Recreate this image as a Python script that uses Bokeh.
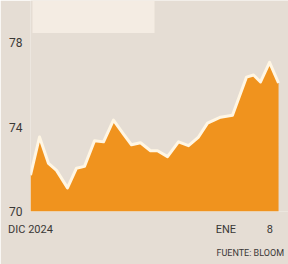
from bokeh.plotting import figure
from bokeh.models import FixedTicker, BoxAnnotation, Title
from bokeh.embed import file_html
from bokeh.resources import INLINE

# days since 1 Dec 2024 and price (USD)
dias = [0.0, 1.43, 2.86, 4.13, 5.87, 7.30, 8.57, 10.16, 11.59, 13.17, 14.76, 16.03,
        17.46, 19.05, 20.16, 21.75, 23.49, 25.08, 26.67, 28.10, 30.16, 32.06, 34.29,
        35.40, 36.51, 37.94, 39.37]
precio = [71.72, 73.53, 72.28, 71.95, 71.12, 72.05, 72.14, 73.35, 73.30, 74.33, 73.67,
          73.16, 73.26, 72.88, 72.88, 72.60, 73.30, 73.12, 73.53, 74.19, 74.47, 74.56,
          76.37, 76.47, 76.14, 77.07, 76.09]
x_ticks = [0, 31, 38]
x_labels = ["DIC 2024", "ENE", "8"]
y_ticks = [70, 74, 78]

BG = "#e5ddd4"
ORANGE = "#f0931e"
TXT = "#3a3836"
FONT = "Roboto"

p = figure(width=288, height=264, output_backend="svg", toolbar_location=None,
           x_range=(0, 40.95), y_range=(70, 80.0),
           min_border_left=30, min_border_right=0, min_border_top=0,
           min_border_bottom=50)
p.background_fill_color = BG
p.border_fill_color = BG
p.outline_line_color = None
p.grid.visible = False

p.add_layout(BoxAnnotation(left=0.32, right=19.68, bottom=78.46, fill_color="#f4ece3",
                           fill_alpha=1, line_color=None, level="underlay"))

p.varea(x=dias, y1=[70] * len(dias), y2=precio, fill_color=ORANGE)
p.line(x=dias, y=precio, line_color="#fff6e4", line_width=3, line_join="round")

for ax in (p.xaxis[0], p.yaxis[0]):
    ax.axis_line_color = None
    ax.major_tick_line_color = None
    ax.minor_tick_line_color = None
    ax.major_tick_out = 0
    ax.major_tick_in = 0
    ax.minor_tick_out = 0
    ax.major_label_text_font = FONT
    ax.major_label_text_color = TXT

p.xaxis.major_label_text_font_size = "11px"
p.yaxis.major_label_text_font_size = "12px"
p.xaxis.ticker = FixedTicker(ticks=x_ticks)
p.xaxis.major_label_overrides = {t: l for t, l in zip(x_ticks, x_labels)}
p.xaxis.major_label_standoff = 11
p.yaxis.ticker = FixedTicker(ticks=y_ticks)
p.yaxis.major_label_standoff = 8

p.add_layout(Title(text="FUENTE: BLOOM", align="left", offset=186, standoff=14,
                   text_font=FONT, text_font_size="9px",
                   text_font_style="normal", text_color=TXT), "below")

open("out.html", "w").write(file_html(p, INLINE))
